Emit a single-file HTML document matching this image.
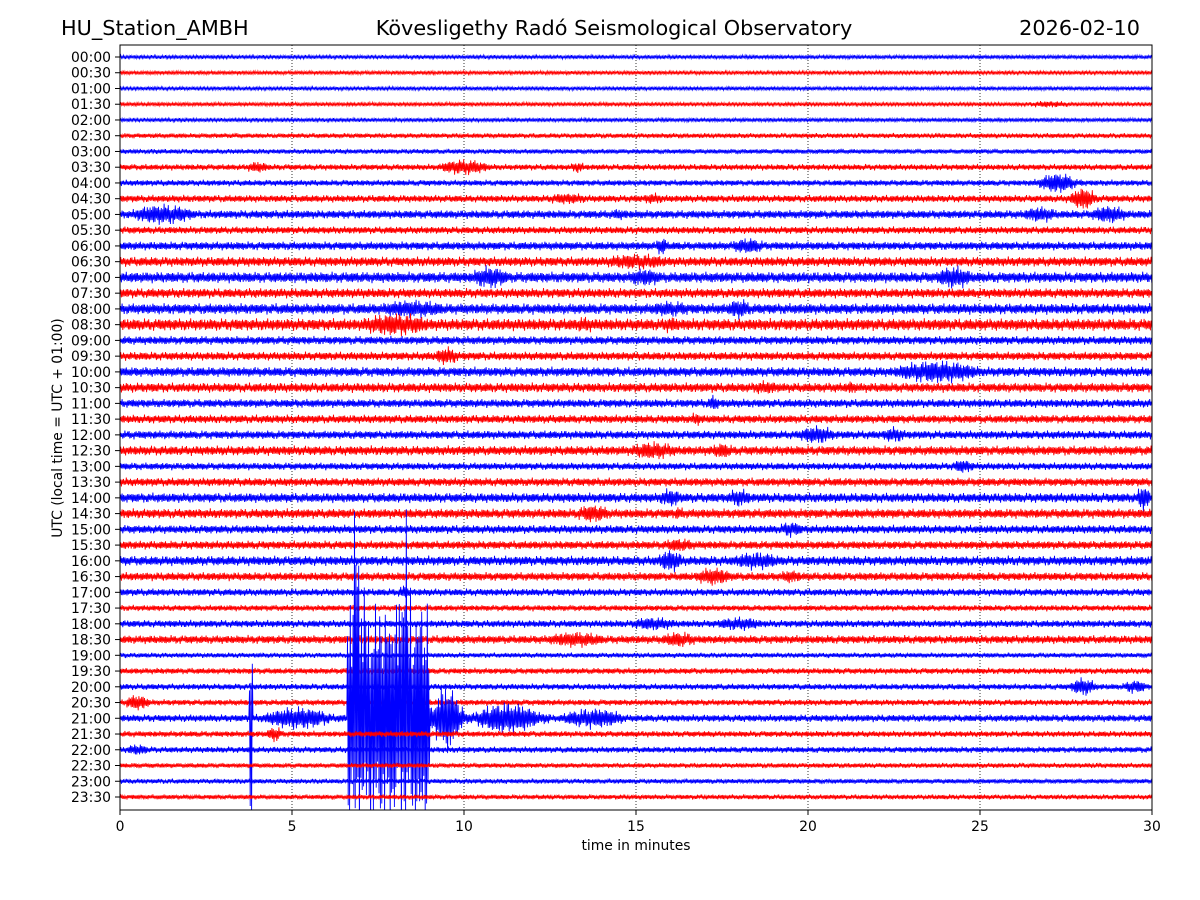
<!DOCTYPE html>
<html><head><meta charset="utf-8"><style>
body{margin:0;background:#fff;}
svg{display:block;font-family:"DejaVu Sans","Liberation Sans",sans-serif;}
</style></head><body>
<svg id="chart" width="1200" height="900">
<text x="61" y="35" font-size="20.8">HU_Station_AMBH</text>
<text x="614" y="35" font-size="20.8" text-anchor="middle">Kövesligethy Radó Seismological Observatory</text>
<text x="1140" y="35" font-size="20.8" text-anchor="end">2026-02-10</text>
<defs><clipPath id="pc"><rect x="120" y="45" width="1032" height="765"/></clipPath></defs>
<g id="grid"></g>
<g id="traces" clip-path="url(#pc)"></g>
<rect x="120" y="45" width="1032" height="765" fill="none" stroke="#000" stroke-width="1"/>
<g id="axes"></g>
<text x="636" y="850" font-size="13.9" text-anchor="middle">time in minutes</text>
<text transform="translate(62,428) rotate(-90)" font-size="13.9" text-anchor="middle">UTC (local time = UTC + 01:00)</text>
</svg>
<script>
const xTicks=[0,5,10,15,20,25,30];
const baseAmp=[1.6,1.6,1.6,1.6,1.6,2.1,2.1,2.6,2.6,3.1,3.6,3.1,3.6,4.1,4.6,4.1,4.6,5.1,3.6,3.6,4.1,4.1,3.6,3.6,3.6,4.1,3.1,3.6,4.1,4.1,3.6,3.6,4.1,3.6,3.1,2.6,3.1,3.6,2.1,2.6,2.6,2.6,3.1,2.6,2.6,2.1,2.1,2.1];
// bursts: [rowIndex, startMin, endMin, ampUp, ampDown]
const bursts=[
[3,26,28,3,3],[7,3.5,4.5,5,5],[7,9,11,7,7],[7,13,13.6,5,5],[8,26.5,28,9,9],
[9,12,14,5,5],[9,15,16,5,5],[9,27.5,28.5,10,10],[10,0,2.5,9,9],[10,14,15,5,5],[10,26,27.5,7,7],[10,28,29.5,8,8],
[12,15.5,16,8,8],[12,17.5,19,7,7],[13,13.5,16.5,7,7],[14,10,11.5,10,10],[14,14.5,16,8,8],[14,23.5,25,10,10],
[16,7,10,8,8],[16,15,17,7,7],[16,17.5,18.5,9,9],[17,6.5,9.5,10,10],[17,13,14,7,7],[17,15.5,16.5,7,7],
[19,9,10,8,8],[20,22,25.5,10,10],[21,18,19.5,6,6],[21,21,21.5,6,6],[22,17,17.5,7,7],[23,16.5,17,6,6],
[24,19.5,21,8,8],[24,22,23,7,7],[25,14.5,16.5,8,8],[25,17,18,7,7],[26,24,25,6,6],
[28,15.5,16.5,8,8],[28,17.5,18.5,8,8],[28,29.5,30,12,12],[29,13,14.5,8,8],[29,16,16.5,6,6],
[30,19,20,7,7],[31,15.5,17,6,6],[32,15.5,16.5,10,10],[32,17.5,19.5,8,8],[33,16.5,18,8,8],[33,19,20,6,6],
[34,8,8.5,6,6],[36,14.5,16.5,6,6],[36,17,19,6,6],[37,12,14.5,7,7],[37,15.5,17,7,7],
[40,27.5,28.5,8,8],[40,29,30,6,6],[41,0,1,7,7],[43,4.2,4.8,7,7],[44,0,1,5,5],
[42,3.75,3.85,55,95],[42,3.85,6.5,10,10],[42,6.6,7.2,110,95],[42,6.8,6.95,210,95],[42,7.2,8.0,100,95],
[42,8.2,8.35,220,95],[42,8.0,9.0,105,95],[42,9.0,10,30,30],[42,10,12.5,14,14],[42,12.5,15,9,9]
];
const rowLabels=[];for(let h=0;h<24;h++){for(const m of ["00","30"])rowLabels.push(String(h).padStart(2,"0")+":"+m);}
const NS="http://www.w3.org/2000/svg";
const X0=120,X1=1152,Y0=57,DY=(797-57)/47;
const xs=m=>X0+(X1-X0)*m/30;
const ys=r=>Y0+r*DY;
const grid=document.getElementById('grid'),axes=document.getElementById('axes'),tr=document.getElementById('traces');
xTicks.forEach((t,i)=>{
 if(t>0&&t<30){const l=document.createElementNS(NS,'line');
 
 
 l.setAttribute('x1',xs(t));l.setAttribute('x2',xs(t));l.setAttribute('y1',45);l.setAttribute('y2',810);
 l.setAttribute('stroke','#000');l.setAttribute('stroke-width','0.8');l.setAttribute('stroke-dasharray','1,2');grid.appendChild(l);}
 const k=document.createElementNS(NS,'line');
 
 
 k.setAttribute('x1',xs(t));k.setAttribute('x2',xs(t));k.setAttribute('y1',810);k.setAttribute('y2',815);k.setAttribute('stroke','#000');axes.appendChild(k);
 const tx=document.createElementNS(NS,'text');
 
 
 tx.setAttribute('x',xs(t));tx.setAttribute('y',831);tx.setAttribute('font-size','13.9');tx.setAttribute('text-anchor','middle');tx.textContent=t;axes.appendChild(tx);
});
rowLabels.forEach((lab,r)=>{
 const k=document.createElementNS(NS,'line');
 
 
 k.setAttribute('x1',115);k.setAttribute('x2',120);k.setAttribute('y1',ys(r));k.setAttribute('y2',ys(r));k.setAttribute('stroke','#000');axes.appendChild(k);
 const tx=document.createElementNS(NS,'text');
 
 
 tx.setAttribute('x',111);tx.setAttribute('y',ys(r)+5);tx.setAttribute('font-size','13.9');tx.setAttribute('text-anchor','end');tx.textContent=lab;axes.appendChild(tx);
});
function env(r,m){let up=baseAmp[r],dn=baseAmp[r];
 bursts.forEach(b=>{if(b[0]!==r)return;if(m<b[1]||m>b[2])return;
  const f=Math.sin(Math.PI*(m-b[1])/(b[2]-b[1]));const g=b[3]>50?1:Math.max(0.35,f);
  up=Math.max(up,b[3]*g);dn=Math.max(dn,b[4]*g);});
 return [up,dn];}
rowLabels.forEach((lab,r)=>{
 const yc=ys(r);let d="";
 for(let px=X0,i=0;px<=X1;px+=0.7,i++){
  const m=(px-X0)/(X1-X0)*30;const e=env(r,m);
  const w=0.35+0.65*Math.abs(0.5*Math.sin(i*1.37+r)+0.3*Math.sin(i*0.513+2*r)+0.2*Math.sin(i*2.91));
  const y=i%2?yc-e[0]*w*1.3:yc+e[1]*w*1.3;
  d+=(i?"L":"M")+px.toFixed(1)+" "+y.toFixed(1);
 }
 const p=document.createElementNS(NS,'path');
 
 
 p.setAttribute('d',d);p.setAttribute('fill','none');p.setAttribute('stroke',r%2?'#ff0000':'#0000ff');p.setAttribute('stroke-width','0.9');
 tr.appendChild(p);
});
</script>
</body></html>
